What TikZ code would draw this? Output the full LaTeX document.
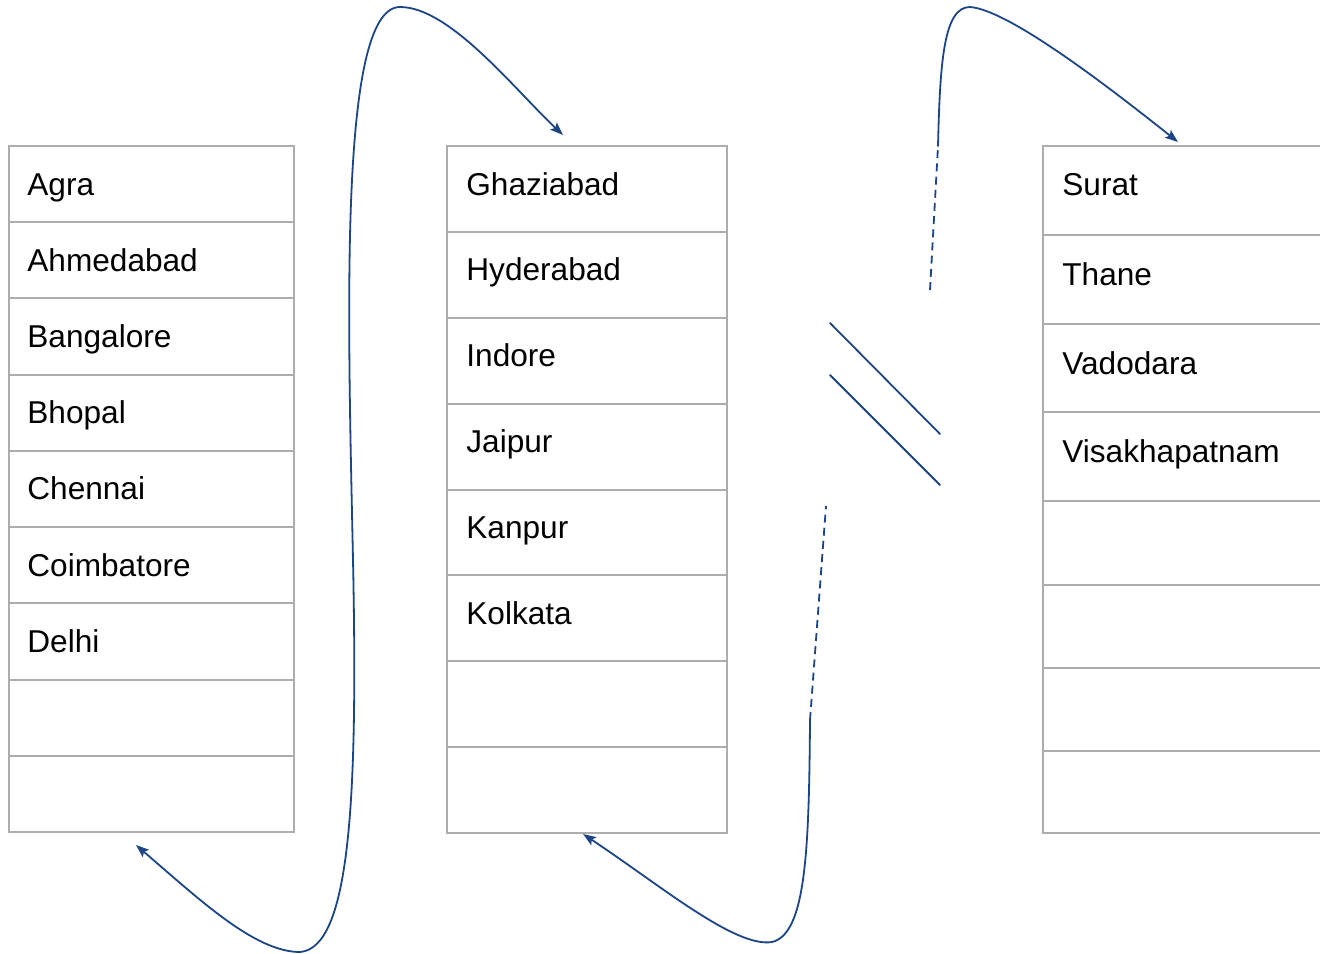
\documentclass[tikz,border=0pt]{standalone}
\usepackage{fontspec}
\setmainfont{Liberation Sans}
\usetikzlibrary{arrows.meta}
\definecolor{cellgray}{HTML}{ADADAD}
\definecolor{linkblue}{HTML}{1C4587}
\tikzset{
  cellline/.style={draw=cellgray, line width=1pt},
  city/.style={anchor=base west, inner sep=0pt, font=\fontsize{15.8pt}{18pt}\selectfont},
  link/.style={draw=linkblue, line width=0.9pt, line cap=round},
  dashlink/.style={link, dash pattern=on 4pt off 2.6pt, line cap=butt},
  head/.tip={Stealth[length=6.5pt,width=4.8pt,inset=1.3pt]},
}
\begin{document}
\begin{tikzpicture}[x=0.5pt,y=-0.5pt]
\useasboundingbox (0,0) rectangle (1320,953);

% first column: nine rows
\draw[cellline] (9,146) rectangle (294,832);
\foreach \i in {1,...,8} \draw[cellline] (9,{146+\i*76.22}) -- (294,{146+\i*76.22});
\foreach \n/\t [count=\k from 0] in {agra/Agra,ahmedabad/Ahmedabad,bangalore/Bangalore,bhopal/Bhopal,chennai/Chennai,coimbatore/Coimbatore,delhi/Delhi}
  \node[city] (\n) at (27,{195+\k*76.22}) {\t};

% second column: eight rows
\draw[cellline] (447,146) rectangle (727,833);
\foreach \i in {1,...,7} \draw[cellline] (447,{146+\i*85.875}) -- (727,{146+\i*85.875});
\foreach \n/\t [count=\k from 0] in {ghaziabad/Ghaziabad,hyderabad/Hyderabad,indore/Indore,jaipur/Jaipur,kanpur/Kanpur,kolkata/Kolkata}
  \node[city] (\n) at (466,{195+\k*85.875}) {\t};

% third column, running off the right edge
\draw[cellline] (1320,146) -- (1043,146) -- (1043,833) -- (1320,833);
\foreach \y in {235,324,412,501,585,668,751} \draw[cellline] (1043,\y) -- (1320,\y);
\node[city] (surat) at (1062,195) {Surat};
\node[city] (thane) at (1062,285) {Thane};
\node[city] (vadodara) at (1062,374) {Vadodara};
\node[city] (visakhapatnam) at (1062,462) {Visakhapatnam};

% connector ends
\coordinate (c1end) at (136,845);
\coordinate (c2start) at (563,135);
\coordinate (c2end) at (583,834);
\coordinate (gapA) at (810,720);
\coordinate (gapAtop) at (826,506);
\coordinate (gapBbot) at (930,290);
\coordinate (gapB) at (938,146);
\coordinate (c3start) at (1178,142);

% column 1 -> column 2
\draw[link,head-head]
  (c1end) .. controls (200,900) and (255,952) .. (300,952)
          .. controls (350,948) and (358,800) .. (353,560)
          .. controls (348,320) and (338,7) .. (400,7)
          .. controls (450,7) and (515,90) .. (c2start);

% column 2 -> break
\draw[link,head-]
  (c2end) .. controls (660,885) and (735,948) .. (772,942)
          .. controls (806,934) and (809,850) .. (gapA);
\draw[dashlink] (gapA) -- (gapAtop);

% break marks
\coordinate (brA1) at (830,323); \coordinate (brA2) at (940,434);
\coordinate (brB1) at (830,375); \coordinate (brB2) at (940,485);
\draw[link] (brA1) -- (brA2);
\draw[link] (brB1) -- (brB2);

% break -> column 3
\draw[dashlink] (gapBbot) -- (gapB);
\draw[link,-head]
  (gapB) .. controls (940,60) and (944,7) .. (970,7)
         .. controls (1010,10) and (1115,92) .. (c3start);
\end{tikzpicture}
\end{document}
